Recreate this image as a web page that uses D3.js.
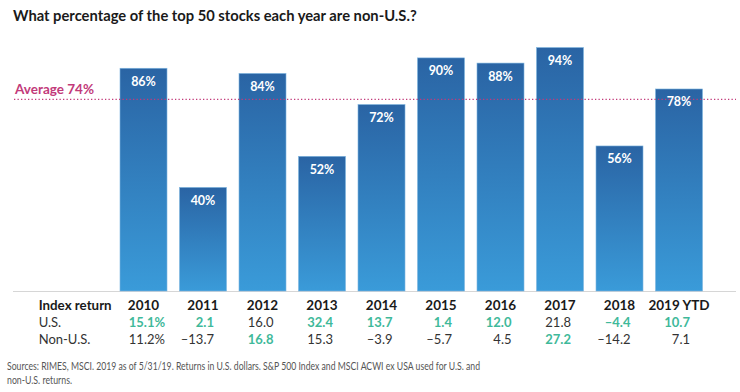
<!DOCTYPE html>
<html><head><meta charset="utf-8">
<script src="https://cdn.jsdelivr.net/npm/d3@7"></script>
<style>body{margin:0;background:#fff}svg{display:block;font-family:Lato,"Open Sans",sans-serif}</style>
</head><body><svg id="c" width="740" height="392"></svg>
<script>
const years = ["2010","2011","2012","2013","2014","2015","2016","2017","2018","2019 YTD"];
const pctNonUS = [86,40,84,52,72,90,88,94,56,78];
const average = 74;
const usReturns = [15.1,2.1,16.0,32.4,13.7,1.4,12.0,21.8,-4.4,10.7];
const nonUSReturns = [11.2,-13.7,16.8,15.3,-3.9,-5.7,4.5,27.2,-14.2,7.1];
const titleText = "What percentage of the top 50 stocks each year are non-U.S.?";
const sourceLines = ["Sources: RIMES, MSCI. 2019 as of 5/31/19. Returns in U.S. dollars. S&P 500 Index and MSCI ACWI ex USA used for U.S. and","non-U.S. returns."];

const svg = d3.select("#c");
const x = d3.scaleBand().domain(years).range([113.75,708.75]).paddingInner(0.21).paddingOuter(0.105);
const y = d3.scaleLinear().domain([0,100]).range([291,32]);

function fit(sel, w){
  const n = sel.node(); const fs = parseFloat(sel.attr("font-size"));
  const cur = n.getComputedTextLength();
  sel.attr("font-size", (fs*w/cur).toFixed(2));
}

const defs = svg.append("defs");
const g = defs.append("linearGradient").attr("id","bg").attr("x1",0).attr("y1",0).attr("x2",0).attr("y2",1);
g.append("stop").attr("offset","0%").attr("stop-color","#2a64a4");
g.append("stop").attr("offset","100%").attr("stop-color","#3a9bd9");

const t = svg.append("text").attr("x",13).attr("y",21).attr("font-size",18).attr("font-weight",700).attr("fill","#1a1a1a").text(titleText);
fit(t,404);

// baseline
svg.append("line").attr("x1",13).attr("x2",736).attr("y1",291.5).attr("y2",291.5).attr("stroke","#d6d6d6").attr("stroke-width",1);

// bars
svg.selectAll("rect.bar").data(years).join("rect").attr("class","bar")
  .attr("x",d=>x(d)).attr("width",x.bandwidth())
  .attr("y",(d,i)=>y(pctNonUS[i])).attr("height",(d,i)=>y(0)-y(pctNonUS[i]))
  .attr("fill","url(#bg)").attr("stroke","#7fb6e0").attr("stroke-width",0.6);

// average line
svg.append("line").attr("x1",14).attr("x2",736).attr("y1",y(average)).attr("y2",y(average))
  .attr("stroke","#c23a7a").attr("stroke-width",1.3).attr("stroke-dasharray","1.3,2.2");
const av = svg.append("text").attr("x",15).attr("y",94).attr("font-size",13).attr("font-weight",700).attr("fill","#c23a7a").text("Average "+average+"%");
fit(av,79);

// bar labels
svg.selectAll("text.bl").data(years).join("text").attr("class","bl")
  .attr("x",d=>x(d)+x.bandwidth()/2).attr("y",(d,i)=>y(pctNonUS[i])+17.5)
  .attr("text-anchor","middle").attr("font-size",12.5).attr("font-weight",700).attr("fill","#fff")
  .text((d,i)=>pctNonUS[i]+"%");

// table
const cx = d=>x(d)+x.bandwidth()/2;
const hdr = svg.append("text").attr("x",38.7).attr("y",310).attr("font-size",13.5).attr("font-weight",700).attr("fill","#1a1a1a").text("Index return");
fit(hdr,73);
svg.selectAll("text.yr").data(years).join("text").attr("class","yr")
  .attr("x",cx).attr("y",310).attr("text-anchor","middle").attr("font-size",13.5).attr("font-weight",700).attr("fill","#1a1a1a").text(d=>d);
svg.append("text").attr("x",38.7).attr("y",327.3).attr("font-size",13).attr("fill","#333").text("U.S.");
svg.append("text").attr("x",38.7).attr("y",344).attr("font-size",13).attr("fill","#333").text("Non-U.S.");

const fmt = v => (v<0?"\u2013":"")+Math.abs(v).toFixed(1);
function row(vals, other, yy, cls){
  svg.selectAll("text."+cls).data(years).join("text").attr("class",cls)
    .attr("x",d=>cx(d)+11).attr("y",yy).attr("text-anchor","end").attr("font-size",13)
    .attr("font-weight",(d,i)=>vals[i]>other[i]?700:400)
    .attr("fill",(d,i)=>vals[i]>other[i]?"#3fb99a":"#333")
    .text((d,i)=>fmt(vals[i]));
  svg.append("text").attr("x",cx(years[0])+11).attr("y",yy).attr("font-size",13)
    .attr("font-weight",vals[0]>other[0]?700:400).attr("fill",vals[0]>other[0]?"#3fb99a":"#333").text("%");
}
row(usReturns,nonUSReturns,327.3,"us");
row(nonUSReturns,usReturns,344,"nu");

svg.append("text").attr("x",7).attr("y",370).attr("font-size",11.5).attr("fill","#555")
  .attr("textLength",473).attr("lengthAdjust","spacingAndGlyphs").text(sourceLines[0]);
svg.append("text").attr("x",7).attr("y",383.5).attr("font-size",11.5).attr("fill","#555")
  .attr("textLength",65).attr("lengthAdjust","spacingAndGlyphs").text(sourceLines[1]);
</script></body></html>
